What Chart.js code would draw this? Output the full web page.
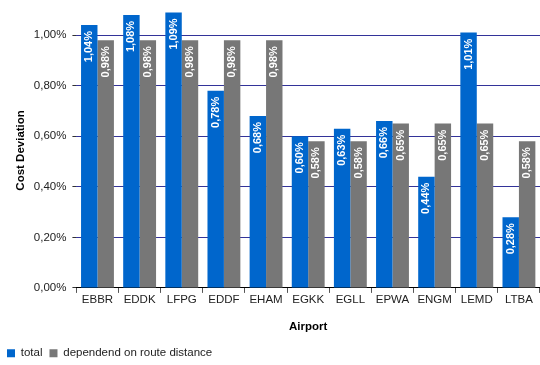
<!DOCTYPE html>
<html>
<head>
<meta charset="utf-8">
<script src="https://cdn.jsdelivr.net/npm/chart.js@4/dist/chart.umd.min.js"></script>
<style>
  html, body { margin: 0; padding: 0; background: #fff; }
  #wrap { width: 540px; height: 365px; }
</style>
</head>
<body>
<div id="wrap"><canvas id="chart"></canvas></div>
<script>
// chart data
const airports = ['EBBR', 'EDDK', 'LFPG', 'EDDF', 'EHAM', 'EGKK', 'EGLL', 'EPWA', 'ENGM', 'LEMD', 'LTBA'];
const totalDeviation = [1.04, 1.08, 1.09, 0.78, 0.68, 0.60, 0.63, 0.66, 0.44, 1.01, 0.28];
const routeDeviation = [0.98, 0.98, 0.98, 0.98, 0.98, 0.58, 0.58, 0.65, 0.65, 0.65, 0.58];
const yTicks = [0, 0.2, 0.4, 0.6, 0.8, 1.0];

const fmt = v => v.toFixed(2).replace('.', ',') + '%';
const FONT = '"Liberation Sans", Arial, sans-serif';

// white rotated value labels inside the top of each bar
const barLabels = {
    id: 'barLabels',
    afterDatasetsDraw(chart) {
        const ctx = chart.ctx;
        ctx.save();
        ctx.fillStyle = '#ffffff';
        ctx.font = 'bold 11px ' + FONT;
        ctx.textAlign = 'right';
        ctx.textBaseline = 'middle';
        chart.data.datasets.forEach((ds, i) => {
            chart.getDatasetMeta(i).data.forEach((bar, j) => {
                ctx.save();
                ctx.translate(bar.x, bar.y + 6);
                ctx.rotate(-Math.PI / 2);
                ctx.fillText(fmt(ds.data[j]), 0, 0);
                ctx.restore();
            });
        });
        ctx.restore();
    }
};

new Chart(document.getElementById('chart'), {
    type: 'bar',
    data: {
        labels: airports,
        datasets: [{
            label: 'total',
            data: totalDeviation,
            backgroundColor: '#0066cc',
            categoryPercentage: 0.78,
            barPercentage: 1,
            clip: false
        }, {
            label: 'dependend on route distance',
            data: routeDeviation,
            backgroundColor: '#777777',
            categoryPercentage: 0.78,
            barPercentage: 1,
            clip: false
        }]
    },
    options: {
        responsive: true,
        maintainAspectRatio: false,
        animation: false,
        layout: { padding: { top: 4, right: 0, left: 0, bottom: -4 } },
        plugins: {
            legend: {
                position: 'bottom',
                align: 'start',
                labels: {
                    boxWidth: 8,
                    boxHeight: 8,
                    padding: 7,
                    color: '#222',
                    font: { family: FONT, size: 11.5 }
                }
            },
            tooltip: { enabled: false }
        },
        scales: {
            x: {
                grid: { drawOnChartArea: false, tickLength: 5, color: '#555' },
                border: { color: '#000', width: 1 },
                ticks: { color: '#222', padding: 0, font: { family: FONT, size: 11.5 } },
                title: {
                    display: true, text: 'Airport', color: '#000',
                    padding: { top: 13, bottom: 7 },
                    font: { family: FONT, size: 11.5, weight: 'bold' }
                }
            },
            y: {
                min: 0,
                max: 1.088,
                afterBuildTicks: scale => { scale.ticks = yTicks.map(v => ({ value: v })); },
                grid: { color: '#333399', tickLength: 4, tickColor: '#333' },
                border: { display: false },
                ticks: {
                    color: '#222',
                    padding: 6,
                    font: { family: FONT, size: 11.5 },
                    callback: v => fmt(v)
                },
                title: {
                    display: true, text: 'Cost Deviation', color: '#000',
                    padding: { top: 14, bottom: 0 },
                    font: { family: FONT, size: 11.5, weight: 'bold' }
                }
            }
        }
    },
    plugins: [barLabels]
});
</script>
</body>
</html>
